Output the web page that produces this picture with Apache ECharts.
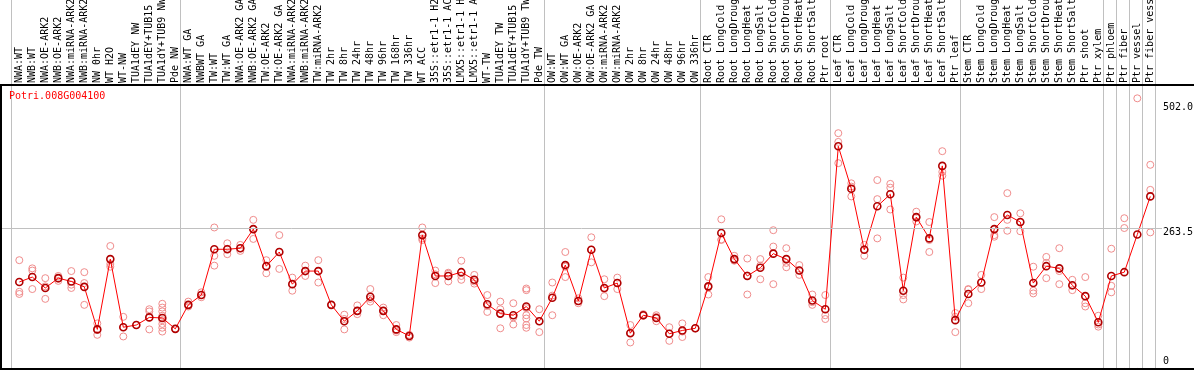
<!DOCTYPE html>
<html><head><meta charset="utf-8">
<script src="https://cdn.jsdelivr.net/npm/echarts@6/dist/echarts.min.js"></script>
<style>html,body{margin:0;padding:0;background:#fff}#chart{width:1194px;height:370px}</style>
</head><body><div id="chart"></div>
<script>
const geneId = 'Potri.008G004100';
const categories = [
 'NWA:WT','NWB:WT','NWA:OE-ARK2','NWB:OE-ARK2','NWA:miRNA-ARK2','NWB:miRNA-ARK2','NW 0hr','WT H2O','WT-NW','TUA1dEY NW',
 'TUA1dEY+TUB15 NW','TUA1dY+TUB9 NW','Pde NW','NWA:WT GA','NWBWT GA','TW:WT','TW:WT GA','NWA:OE-ARK2 GA','NWB:OE-ARK2 GA','TW:OE-ARK2',
 'TW:OE-ARK2 GA','NWA:miRNA-ARK2','NWB:miRNA-ARK2','TW:miRNA-ARK2','TW 2hr','TW 8hr','TW 24hr','TW 48hr','TW 96hr','TW 168hr',
 'TW 336hr','WT ACC','35S::etr1-1 H2O','35S::etr1-1 ACC','LMX5::etr1-1 H2O','LMX5::etr1-1 ACC','WT-TW','TUA1dEY TW','TUA1dEY+TUB15 TW','TUA1dY+TUB9 TW',
 'Pde TW','OW:WT','OW:WT GA','OW:OE-ARK2','OW:OE-ARK2 GA','OW:miRNA-ARK2','OW:miRNA-ARK2','OW 2hr','OW 8hr','OW 24hr',
 'OW 48hr','OW 96hr','OW 336hr','Root CTR','Root LongCold','Root LongDrought','Root LongHeat','Root LongSalt','Root ShortCold','Root ShortDrought',
 'Root ShortHeat','Root ShortSalt','Ptr root','Leaf CTR','Leaf LongCold','Leaf LongDrought','Leaf LongHeat','Leaf LongSalt','Leaf ShortCold','Leaf ShortDrought',
 'Leaf ShortHeat','Leaf ShortSalt','Ptr leaf','Stem CTR','Stem LongCold','Stem LongDrought','Stem LongHeat','Stem LongSalt','Stem ShortCold','Stem ShortDrought',
 'Stem ShortHeat','Stem ShortSalt','Ptr shoot','Ptr xylem','Ptr phloem','Ptr fiber','Ptr vessel','Ptr fiber vessel'
];
const meanValues = [
 165,174,154,172,166,156,78,207,82,86,
 100,99,79,123,141,225,225,227,262,194,
 220,161,185,185,123,93,112,138,112,78,
 66,251,176,176,183,169,124,107,104,120,
 93,136,196,130,224,154,163,71,104,99,
 70,76,80,157,255,207,176,191,217,207,
 186,131,115,414,336,224,304,326,149,284,
 245,378,95,143,164,262,288,275,163,194,
 190,159,139,91,176,183,252,322
];
const replicateValues = [
 [205,147,143],[190,186,152],[172,157,134],[176,171,167],[185,160,154],[183,163,123],[89,77,68],[231,198,193],[101,82,65],[86],
 [115,111,100,78],[125,118,111,103,95,88,81,74],[79],[129,123,120],[146,141,137],[265,213,195],[236,226,216],[233,227,222],[279,262,244],[205,194,181],
 [251,220,189],[173,161,149],[195,185,176],[205,185,164],[123],[105,97,78],[122,112,106],[152,134,129],[118,112,104],[86,76,73],
 [68,66,63],[265,245,242],[186,179,163],[182,180,166],[204,176,169],[178,166,162],[141,121,110],[129,115,107,80],[126,100,87],[153,150,117,104,98,86,81],
 [115,93,73],[164,140,104],[220,193,174],[135,130,126],[247,224,201],[170,152,139],[173,163,152],[86,72,54],[106,104,103],[104,101,93],
 [82,70,57],[89,74,64],[80,80],[174,155,142],[280,243,242],[213,205,204],[208,177,142],[207,195,170],[260,230,161],[227,200,192],
 [196,186,178],[142,128,123],[141,104,97],[438,422,383],[346,340,322],[233,225,213],[352,317,245],[345,338,298],[173,141,133],[294,283,276],
 [275,242,220],[405,367,360],[108,101,73],[152,151,126],[178,164,152],[284,251,248],[328,279,259],[291,274,258],[193,149,144],[211,200,172],
 [227,185,161],[169,158,150],[174,126,120],[103,87,83],[226,158,146],[282,264,0],[502,0],[380,334,256]
];
const yTickValues = [0, 263.5, 502.0];
const yTickLabels = ['0', '263.5', '502.0'];
const groupStarts = [0, 13, 41, 53, 63, 73, 84, 85, 86, 87];

const MONO = 'DejaVu Sans Mono';
const chart = echarts.init(document.getElementById('chart'), null, {renderer: 'canvas'});

const scatterData = [];
replicateValues.forEach((reps, i) => reps.forEach(v => scatterData.push([i, v])));

const labelOffsets = [[0, -10], [0, 3.7], [0, 9]];
const markData = yTickValues.map((v, k) => ({
  yAxis: v,
  lineStyle: { color: v === 263.5 ? '#c0c0c0' : 'rgba(0,0,0,0)', width: 1, type: 'solid' },
  label: { show: true, position: 'end', distance: 1, formatter: yTickLabels[k], color: '#000',
           fontFamily: MONO, fontSize: 10, offset: labelOffsets[k] }
}));

const gridBase = { outerBoundsMode: 'none', containLabel: false, show: false };

chart.setOption({
  animation: false,
  backgroundColor: '#fff',
  title: {
    text: geneId, left: 9, top: 91, padding: 0,
    textStyle: { color: '#ff0000', fontFamily: MONO, fontSize: 10, fontWeight: 'normal' }
  },
  grid: [
    Object.assign({ left: 12.8, top: 0, width: 1144, height: 371.9 }, gridBase),
    Object.assign({ left: 1, top: 85, width: 1161, height: 286.9 }, gridBase),
    Object.assign({ left: 11.3, top: 0, width: 1144, height: 371.9 }, gridBase)
  ],
  xAxis: [
    { type: 'category', gridIndex: 0, data: categories, position: 'top', offset: -85, boundaryGap: true,
      axisLine: { show: false }, axisTick: { show: false }, splitLine: { show: false },
      axisLabel: { interval: 0, rotate: 90, margin: 2, color: '#000', fontFamily: MONO, fontSize: 10, hideOverlap: false } },
    { type: 'value', gridIndex: 1, min: 0, max: 1, show: false },
    { type: 'category', gridIndex: 2, data: categories, boundaryGap: true,
      axisLine: { show: false }, axisTick: { show: false }, axisLabel: { show: false },
      splitLine: { show: true, interval: (idx) => groupStarts.indexOf(idx) >= 0,
                   lineStyle: { color: '#c0c0c0', width: 1 } } }
  ],
  yAxis: [
    { type: 'value', gridIndex: 0, min: 0, max: 682.4, show: false, splitLine: { show: false } },
    { type: 'value', gridIndex: 1, min: 0, max: 526.5, show: false, splitLine: { show: false } },
    { type: 'value', gridIndex: 2, min: 0, max: 1, show: false, splitLine: { show: false } }
  ],
  graphic: [
    { type: 'line', shape: { x1: 0, y1: 85, x2: 1194, y2: 85 }, style: { stroke: '#000', lineWidth: 2 }, z: 100 },
    { type: 'line', shape: { x1: 1, y1: 84, x2: 1, y2: 370 }, style: { stroke: '#000', lineWidth: 2 }, z: 100 },
    { type: 'line', shape: { x1: 0, y1: 369, x2: 1194, y2: 369 }, style: { stroke: '#000', lineWidth: 2 }, z: 100 }
  ],
  series: [
    { type: 'line', xAxisIndex: 1, yAxisIndex: 1, data: [], silent: true,
      markLine: { symbol: 'none', silent: true, animation: false, data: markData } },
    { type: 'scatter', xAxisIndex: 0, yAxisIndex: 0, data: scatterData, clip: false,
      symbol: 'circle', symbolSize: 7,
      itemStyle: { color: 'rgba(0,0,0,0)', borderColor: '#f08c8c', borderWidth: 1, opacity: 1 }, z: 2 },
    { type: 'line', xAxisIndex: 0, yAxisIndex: 0, data: meanValues, clip: false,
      symbol: 'circle', symbolSize: 7, showSymbol: true, showAllSymbol: true,
      lineStyle: { color: '#ff0000', width: 1 },
      itemStyle: { color: 'rgba(0,0,0,0)', borderColor: '#b00000', borderWidth: 1.6 }, z: 3 }
  ]
});
</script></body></html>
